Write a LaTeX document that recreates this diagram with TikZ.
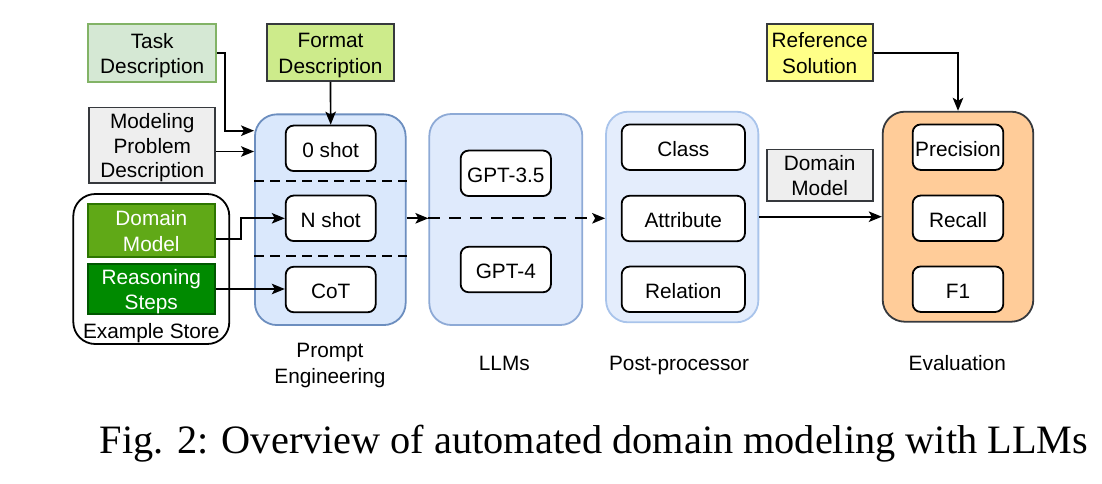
\documentclass[tikz,border=0pt]{standalone}
\usepackage{fontspec}
\setmainfont{Liberation Sans}
\newfontfamily\capfont{Liberation Serif}
\usetikzlibrary{arrows.meta,calc}
\definecolor{pefill}{HTML}{DAE8FC}
\definecolor{peline}{HTML}{6C8EBF}
\definecolor{llmfill}{HTML}{DFEAFC}
\definecolor{llmline}{HTML}{8EAAD6}
\definecolor{ppfill}{HTML}{E4EDFC}
\definecolor{ppline}{HTML}{A9C4EB}
\definecolor{taskfill}{HTML}{D5E8D4}
\definecolor{taskline}{HTML}{82B366}
\definecolor{fmtfill}{HTML}{CDEB8B}
\definecolor{darkline}{HTML}{36393D}
\definecolor{grayfill}{HTML}{EEEEEE}
\definecolor{dmfill}{HTML}{60A917}
\definecolor{dmline}{HTML}{2D7600}
\definecolor{rsfill}{HTML}{008A00}
\definecolor{rsline}{HTML}{005700}
\definecolor{reffill}{HTML}{FFFF88}
\definecolor{evfill}{HTML}{FFCC99}
\newcommand\dstrut{\rule[-5.3pt]{0pt}{29pt}}
\newcommand\estrut{\rule[-5.3pt]{0pt}{25pt}}
\newcommand\tl{\rule{0pt}{21pt}}
\tikzset{
  txt/.style={font=\fontsize{20.8}{25.4}\selectfont, align=center, inner sep=0pt,
    execute at begin node=\dstrut, execute at end node=\estrut},
  srcbox/.style={txt, draw, line width=1.8pt, minimum width=#1},
  container/.style={draw, line width=1.8pt, rounded corners=22pt, inner sep=0pt},
  inbox/.style={txt, draw=black, line width=1.8pt, fill=white, rounded corners=8pt, minimum height=45.5pt},
  arr/.style={draw=black, line width=1.7pt, -{Stealth[length=13pt,width=10.5pt,inset=3pt]}},
  sep/.style={draw=black, line width=2pt, dash pattern=on 10pt off 6pt},
}
\begin{document}
\begin{tikzpicture}[x=1pt,y=-1pt]
\useasboundingbox (0,0) rectangle (1102,483);
% containers
\node[container, fill=pefill, draw=peline, minimum width=150.7pt, minimum height=210.7pt] (pe) at (330.3,219.7) {};
\node[container, fill=llmfill, draw=llmline, minimum width=153pt, minimum height=211pt] (llm) at (505.8,219.5) {};
\node[container, fill=ppfill, draw=ppline, minimum width=152.3pt, minimum height=210.6pt] (pp) at (682.2,217) {};
\node[container, fill=evfill, draw=darkline, minimum width=150.6pt, minimum height=210pt] (ev) at (958,216.7) {};
\node[container, fill=white, draw=black, minimum width=156pt, minimum height=150pt] (store) at (151.3,269) {};
% separators in prompt engineering
\draw[sep] (pe.west |- 0,180.7) coordinate (s1a) -- (pe.east |- 0,180.7) coordinate (s1b);
\draw[sep] (pe.west |- 0,256) coordinate (s2a) -- (pe.east |- 0,256) coordinate (s2b);
% source boxes
\node[srcbox=127.7pt, minimum height=57.4pt, fill=taskfill, draw=taskline] (task) at (152.2,53) {\tl Task\\Description};
\node[srcbox=127.6pt, minimum height=56.7pt, fill=fmtfill, draw=darkline] (fmt) at (330.5,52.7) {\tl Format\\Description};
\node[srcbox=126pt, minimum height=70.7pt, fill=grayfill, draw=darkline, font=\fontsize{20.8}{24.6}\selectfont] (mpd) at (152.3,145.3) {\tl Modeling\\Problem\\Description};
\node[srcbox=127.3pt, minimum height=52.4pt, fill=dmfill, draw=dmline, text=white] (dm) at (151.3,230.5) {\tl Domain\\Model};
\node[srcbox=127.3pt, minimum height=46pt, fill=rsfill, draw=rsline, text=white, font=\fontsize{20.8}{24.4}\selectfont] (rs) at (151.3,289) {\tl Reasoning\\Steps};
\node[txt] (storelbl) at (151.3,329.7) {Example Store};
\node[srcbox=106pt, minimum height=49.3pt, fill=grayfill, draw=darkline] (dm2) at (819.7,175.3) {\tl Domain\\Model};
\node[srcbox=106pt, minimum height=56.7pt, fill=reffill, draw=darkline] (ref) at (819.7,52.7) {\tl Reference\\Solution};
% inner boxes
\node[inbox, minimum width=90pt] (zero) at (330.7,148.3) {0 shot};
\node[inbox, minimum width=90pt] (nshot) at (330.7,218.3) {N shot};
\node[inbox, minimum width=90pt] (cot) at (330.7,289.5) {CoT};
\node[inbox, minimum width=90.3pt] (g35) at (505.8,173.3) {GPT-3.5};
\node[inbox, minimum width=90.3pt] (g4) at (505.8,269.5) {GPT-4};
\node[inbox, minimum width=123.3pt] (cls) at (683.3,147.2) {Class};
\node[inbox, minimum width=123.3pt] (att) at (683.3,218.5) {Attribute};
\node[inbox, minimum width=123.3pt] (rel) at (683.3,289.3) {Relation};
\node[inbox, minimum width=90.6pt] (prec) at (958,147.2) {Precision};
\node[inbox, minimum width=90.6pt] (rec) at (958,218.3) {Recall};
\node[inbox, minimum width=90.6pt] (f1) at (958,289.2) {F1};
% labels
\node[txt] (pelbl) at (330,362.5) {\tl Prompt\\Engineering};
\node[txt] (llmlbl) at (504.3,361.3) {LLMs};
\node[txt] (pplbl) at (679,361.3) {Post-processor};
\node[txt] (evlbl) at (957.3,361.3) {Evaluation};
% connectors
\draw[arr] (task.east) -- ++(8.3,0) |- (pe.west |- 0,130.7);
\draw[arr] (mpd.east |- 0,151.5) -- (pe.west |- 0,151.5);
\draw[arr] (fmt.south) -- (zero.north);
\draw[arr] ([yshift=-8.8pt]dm.east) -- ++(25.3,0) |- (nshot.west);
\draw[arr] (rs.east) -- (cot.west |- rs.east);
\draw[arr] (pe.east |- nshot) -- (llm.west |- nshot);
\draw[arr, dash pattern=on 12pt off 9pt] (llm.west |- nshot) -- (pp.west |- nshot);
\draw[arr] (pp.east |- 0,216.7) -- (ev.west |- 0,216.7);
\draw[arr] (ref.east) -| (ev.north);
% caption
\node[inner sep=0pt, font=\capfont\fontsize{40.3}{48}\selectfont] (cap) at (594,443.5) {Fig. 2: Overview of automated domain modeling with LLMs};
\end{tikzpicture}
\end{document}
